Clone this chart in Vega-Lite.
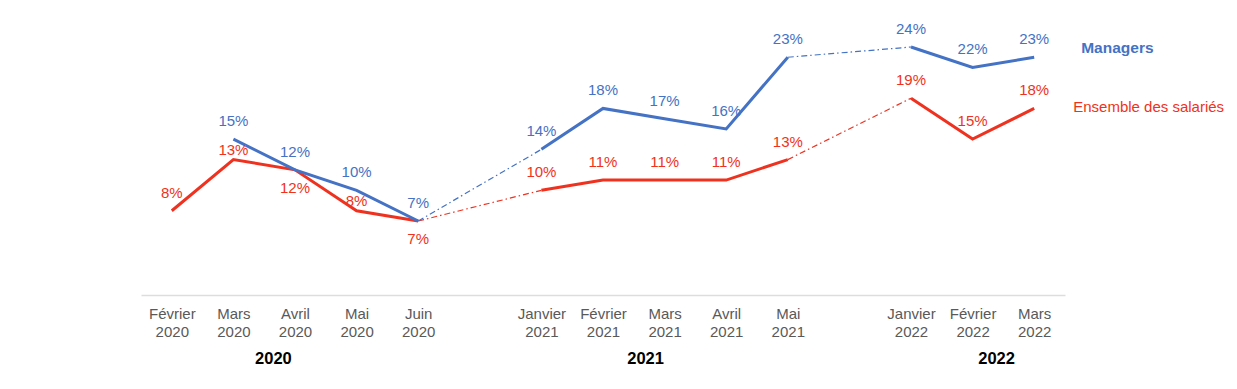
{
  "$schema": "https://vega.github.io/schema/vega-lite/v6.json",
  "width": 924,
  "height": 292,
  "autosize": {"type": "none"},
  "padding": {"left": 141, "top": 3, "right": 172, "bottom": 94},
  "config": {"view": {"stroke": null}, "font": "Liberation Sans"},
  "data": {"values": [
      {"serie": "Ensemble des salariés", "date": "2020-02", "annee": "2020", "mois": "Février 2020", "valeur": 0.08},
      {"serie": "Ensemble des salariés", "date": "2020-03", "annee": "2020", "mois": "Mars 2020", "valeur": 0.13},
      {"serie": "Ensemble des salariés", "date": "2020-04", "annee": "2020", "mois": "Avril 2020", "valeur": 0.12},
      {"serie": "Ensemble des salariés", "date": "2020-05", "annee": "2020", "mois": "Mai 2020", "valeur": 0.08},
      {"serie": "Ensemble des salariés", "date": "2020-06", "annee": "2020", "mois": "Juin 2020", "valeur": 0.07},
      {"serie": "Ensemble des salariés", "date": "2021-01", "annee": "2021", "mois": "Janvier 2021", "valeur": 0.10},
      {"serie": "Ensemble des salariés", "date": "2021-02", "annee": "2021", "mois": "Février 2021", "valeur": 0.11},
      {"serie": "Ensemble des salariés", "date": "2021-03", "annee": "2021", "mois": "Mars 2021", "valeur": 0.11},
      {"serie": "Ensemble des salariés", "date": "2021-04", "annee": "2021", "mois": "Avril 2021", "valeur": 0.11},
      {"serie": "Ensemble des salariés", "date": "2021-05", "annee": "2021", "mois": "Mai 2021", "valeur": 0.13},
      {"serie": "Ensemble des salariés", "date": "2022-01", "annee": "2022", "mois": "Janvier 2022", "valeur": 0.19},
      {"serie": "Ensemble des salariés", "date": "2022-02", "annee": "2022", "mois": "Février 2022", "valeur": 0.15},
      {"serie": "Ensemble des salariés", "date": "2022-03", "annee": "2022", "mois": "Mars 2022", "valeur": 0.18},
      {"serie": "Managers", "date": "2020-03", "annee": "2020", "mois": "Mars 2020", "valeur": 0.15},
      {"serie": "Managers", "date": "2020-04", "annee": "2020", "mois": "Avril 2020", "valeur": 0.12},
      {"serie": "Managers", "date": "2020-05", "annee": "2020", "mois": "Mai 2020", "valeur": 0.10},
      {"serie": "Managers", "date": "2020-06", "annee": "2020", "mois": "Juin 2020", "valeur": 0.07},
      {"serie": "Managers", "date": "2021-01", "annee": "2021", "mois": "Janvier 2021", "valeur": 0.14},
      {"serie": "Managers", "date": "2021-02", "annee": "2021", "mois": "Février 2021", "valeur": 0.18},
      {"serie": "Managers", "date": "2021-03", "annee": "2021", "mois": "Mars 2021", "valeur": 0.17},
      {"serie": "Managers", "date": "2021-04", "annee": "2021", "mois": "Avril 2021", "valeur": 0.16},
      {"serie": "Managers", "date": "2021-05", "annee": "2021", "mois": "Mai 2021", "valeur": 0.23},
      {"serie": "Managers", "date": "2022-01", "annee": "2022", "mois": "Janvier 2022", "valeur": 0.24},
      {"serie": "Managers", "date": "2022-02", "annee": "2022", "mois": "Février 2022", "valeur": 0.22},
      {"serie": "Managers", "date": "2022-03", "annee": "2022", "mois": "Mars 2022", "valeur": 0.23}
  ]},
  "encoding": {
    "x": {
      "field": "mois",
      "type": "nominal",
      "title": null,
      "scale": {
        "type": "point",
        "padding": 0.5,
        "domain": ["Février 2020", "Mars 2020", "Avril 2020", "Mai 2020", "Juin 2020", " ", "Janvier 2021", "Février 2021", "Mars 2021", "Avril 2021", "Mai 2021", "  ", "Janvier 2022", "Février 2022", "Mars 2022"]
      },
      "axis": {
        "labelExpr": "split(datum.label, ' ')",
        "labelAngle": 0,
        "labelFontSize": 15,
        "labelColor": "#595959",
        "labelPadding": 11,
        "labelLineHeight": 18,
        "labelOverlap": false,
        "labelBound": false,
        "ticks": false,
        "grid": false,
        "domainColor": "#dddddd",
        "domainWidth": 1.5
      }
    },
    "y": {
      "field": "valeur",
      "type": "quantitative",
      "scale": {"domain": [-0.0023, 0.283], "nice": false, "zero": false},
      "axis": null
    }
  },
  "layer": [
    {
      "mark": {"type": "line", "strokeWidth": 3},
      "encoding": {
        "color": {"field": "serie", "type": "nominal", "scale": {"domain": ["Managers", "Ensemble des salariés"], "range": ["#4472C4", "#EF3220"]}, "legend": null},
        "detail": {"field": "annee"},
        "order": {"field": "date"}
      }
    },
    {
      "transform": [
        {"window": [
          {"op": "lag", "field": "valeur", "as": "valeur_prec"},
          {"op": "lag", "field": "mois", "as": "mois_prec"},
          {"op": "lag", "field": "annee", "as": "annee_prec"}
        ], "groupby": ["serie"], "sort": [{"field": "date"}]},
        {"filter": "datum.annee_prec != null && datum.annee_prec != datum.annee"}
      ],
      "mark": {"type": "rule", "strokeWidth": 1.2, "strokeDash": [6, 3, 1.5, 3]},
      "encoding": {
        "x": {"field": "mois_prec", "type": "nominal", "title": null},
        "x2": {"field": "mois"},
        "y": {"field": "valeur_prec", "type": "quantitative"},
        "y2": {"field": "valeur"},
        "color": {"field": "serie", "type": "nominal", "legend": null}
      }
    },
    {
      "transform": [{"filter": "datum.serie == 'Managers'"}],
      "mark": {"type": "text", "fontSize": 15, "dy": -18, "baseline": "middle"},
      "encoding": {
        "text": {"field": "valeur", "type": "quantitative", "format": ".0%"},
        "color": {"field": "serie", "type": "nominal", "legend": null}
      }
    },
    {
      "transform": [{"filter": "datum.serie == 'Ensemble des salariés' && indexof(['Mars 2020','Avril 2020','Mai 2020','Juin 2020'], datum.mois) < 0"}],
      "mark": {"type": "text", "fontSize": 15, "dy": -18, "baseline": "middle"},
      "encoding": {
        "text": {"field": "valeur", "type": "quantitative", "format": ".0%"},
        "color": {"field": "serie", "type": "nominal", "legend": null}
      }
    },
    {
      "transform": [{"filter": "datum.serie == 'Ensemble des salariés' && indexof(['Avril 2020','Juin 2020'], datum.mois) >= 0"}],
      "mark": {"type": "text", "fontSize": 15, "dy": 18, "baseline": "middle"},
      "encoding": {
        "text": {"field": "valeur", "type": "quantitative", "format": ".0%"},
        "color": {"field": "serie", "type": "nominal", "legend": null}
      }
    },
    {
      "transform": [{"filter": "datum.serie == 'Ensemble des salariés' && indexof(['Mars 2020','Mai 2020'], datum.mois) >= 0"}],
      "mark": {"type": "text", "fontSize": 15, "dy": -10, "baseline": "middle"},
      "encoding": {
        "text": {"field": "valeur", "type": "quantitative", "format": ".0%"},
        "color": {"field": "serie", "type": "nominal", "legend": null}
      }
    },
    {
      "transform": [{"filter": "datum.serie == 'Managers' && datum.date == '2022-03'"}],
      "mark": {"type": "text", "fontSize": 15.5, "fontWeight": "bold", "align": "left", "baseline": "middle", "dx": 47, "dy": -9},
      "encoding": {
        "text": {"field": "serie"},
        "color": {"field": "serie", "type": "nominal", "legend": null}
      }
    },
    {
      "transform": [{"filter": "datum.serie == 'Ensemble des salariés' && datum.date == '2022-03'"}],
      "mark": {"type": "text", "fontSize": 15, "align": "left", "baseline": "middle", "dx": 39, "dy": -1},
      "encoding": {
        "text": {"field": "serie"},
        "color": {"field": "serie", "type": "nominal", "legend": null}
      }
    },
    {
      "transform": [{"filter": "datum.serie == 'Managers' && datum.date == '2020-03'"}],
      "mark": {"type": "text", "fontSize": 16.5, "fontWeight": "bold", "color": "#000000", "baseline": "middle", "dx": 40, "clip": false},
      "encoding": {"text": {"field": "annee"}, "y": {"datum": -0.065}}
    },
    {
      "transform": [{"filter": "datum.serie == 'Managers' && datum.date == '2021-03'"}],
      "mark": {"type": "text", "fontSize": 16.5, "fontWeight": "bold", "color": "#000000", "baseline": "middle", "dx": -19, "clip": false},
      "encoding": {"text": {"field": "annee"}, "y": {"datum": -0.065}}
    },
    {
      "transform": [{"filter": "datum.serie == 'Managers' && datum.date == '2022-02'"}],
      "mark": {"type": "text", "fontSize": 16.5, "fontWeight": "bold", "color": "#000000", "baseline": "middle", "dx": 24, "clip": false},
      "encoding": {"text": {"field": "annee"}, "y": {"datum": -0.065}}
    }
  ]
}
